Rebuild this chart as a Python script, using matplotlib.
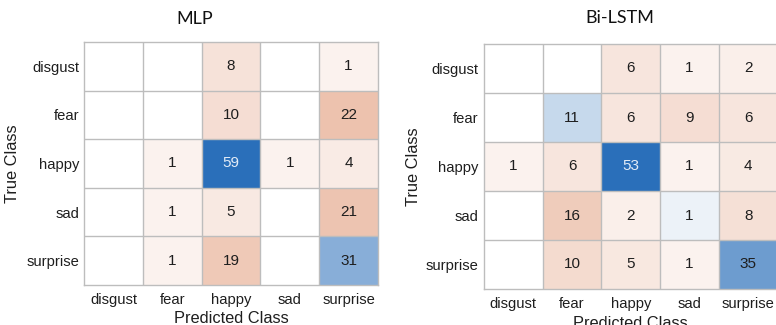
import numpy as np
import matplotlib
matplotlib.use("Agg")
import matplotlib.pyplot as plt

classes = ["disgust", "fear", "happy", "sad", "surprise"]

# rows = true class, columns = predicted class
mlp_counts = [
    [0, 0, 8, 0, 1],
    [0, 0, 10, 0, 22],
    [0, 1, 59, 1, 4],
    [0, 1, 5, 0, 21],
    [0, 1, 19, 0, 31],
]
bilstm_counts = [
    [0, 0, 6, 1, 2],
    [0, 11, 6, 9, 6],
    [1, 6, 53, 1, 4],
    [0, 16, 2, 1, 8],
    [0, 10, 5, 1, 35],
]

titles = ["MLP", "Bi-LSTM"]

DIAG = np.array([42, 111, 186]) / 255.0
OFFDIAG = np.array([212, 110, 62]) / 255.0
GRID = "#bdbdbd"
TEXT_DARK = "#1e1e1e"
TEXT_LIGHT = "#e3ecf7"

plt.rcParams["font.family"] = ["Liberation Sans", "DejaVu Sans"]

W, H = 776, 325
fig = plt.figure(figsize=(W / 100, H / 100), dpi=100)


def px_axes(x0, y0, x1, y1):
    return fig.add_axes([x0 / W, 1 - y1 / H, (x1 - x0) / W, (y1 - y0) / H])


def cell_colors(m):
    m = np.asarray(m, dtype=float)
    vmax = m.max()
    n = m.shape[0]
    rgb = np.ones((n, n, 3))
    strength = np.zeros((n, n))
    for i in range(n):
        for j in range(n):
            v = m[i, j]
            if v <= 0:
                continue
            a = 0.07 + 0.93 * v / vmax
            base = DIAG if i == j else OFFDIAG
            rgb[i, j] = (1 - a) * np.ones(3) + a * base
            strength[i, j] = a if i == j else 0
    return rgb, strength


def draw_matrix(ax, counts, title, title_xy, xlabelpad, ylabelpad, ypad):
    m = np.asarray(counts)
    n = len(classes)
    rgb, strength = cell_colors(m)
    ax.imshow(rgb, aspect="auto", interpolation="nearest",
              extent=(-0.5, n - 0.5, n - 0.5, -0.5))
    for i in range(n):
        for j in range(n):
            if m[i, j] > 0:
                col = TEXT_LIGHT if strength[i, j] > 0.8 else TEXT_DARK
                ax.text(j, i, str(m[i, j]), ha="center", va="center",
                        fontsize=11, color=col)
    for k in range(1, n):
        ax.axhline(k - 0.5, color=GRID, lw=1.0)
        ax.axvline(k - 0.5, color=GRID, lw=1.0)
    for s in ax.spines.values():
        s.set_color(GRID)
        s.set_linewidth(1.0)
    ax.set_xticks(range(n))
    ax.set_yticks(range(n))
    ax.set_xticklabels(classes, fontsize=10.6, color=TEXT_DARK)
    ax.set_yticklabels(classes, fontsize=10.6, color=TEXT_DARK)
    ax.tick_params(axis="x", length=0, pad=6)
    ax.tick_params(axis="y", length=0, pad=ypad)
    ax.set_xlabel("Predicted Class", fontsize=11.8, color=TEXT_DARK,
                  labelpad=xlabelpad)
    ax.set_ylabel("True Class", fontsize=11.8, color=TEXT_DARK,
                  labelpad=ylabelpad)
    ax.set_xlim(-0.5, n - 0.5)
    ax.set_ylim(n - 0.5, -0.5)
    fig.text(title_xy[0] / W, 1 - title_xy[1] / H, title, ha="center",
             va="center", fontsize=13, family="Lato", color="#111111")


ax1 = px_axes(84, 42, 378, 285)
draw_matrix(ax1, mlp_counts, titles[0], (195, 19), 2.5, 5, 3)

ax2 = px_axes(484, 44, 777.5, 289)
draw_matrix(ax2, bilstm_counts, titles[1], (620, 18), 3.5, 3, 4)

fig.savefig("out.png", dpi=100)
